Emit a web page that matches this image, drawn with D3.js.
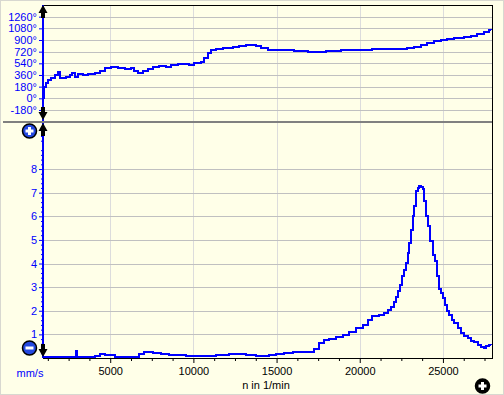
<!DOCTYPE html>
<html>
<head>
<meta charset="utf-8">
<script src="https://cdn.jsdelivr.net/npm/d3@7"></script>
<style>
  body { margin: 0; background: #ffffe8; }
  svg { display: block; font-family: "Liberation Sans", Arial, sans-serif; font-size: 11px; }
  .domain { display: none; }
</style>
</head>
<body>
<div id="chart"></div>
<script>
const width = 504, height = 395;
const left = 43, right = 492;
const phaseTop = 5, phaseBottom = 121, ampTop = 123, ampBottom = 358; // panel edges

// phase curve (upper panel), degrees against rpm
const phaseRpm = [960, 1000, 1060, 1160, 1260, 1460, 1660, 1860, 1960, 2160, 2360, 2560, 2720, 2860, 3060, 3360, 3660, 4060, 4360, 4660, 5060, 5460, 5860, 6260, 6460, 6660, 6960, 7260, 7560, 7960, 8360, 8660, 9060, 9460, 9760, 10060, 10460, 10660, 10860, 11060, 11360, 11760, 12360, 12760, 13160, 13760, 14060, 14460, 16060, 16860, 17960, 18860, 20760, 22860, 23260, 23660, 24060, 24460, 24860, 25260, 25660, 26260, 26660, 27060, 27460, 27760, 27900];
const phaseDeg = [0, 179, 179, 231, 282, 308, 360, 411, 318, 308, 334, 360, 385, 324, 370, 360, 370, 385, 421, 463, 483, 473, 457, 463, 427, 396, 421, 452, 483, 493, 483, 519, 530, 535, 519, 540, 555, 627, 694, 740, 756, 781, 791, 812, 817, 812, 781, 745, 734, 714, 734, 750, 765, 776, 796, 822, 848, 879, 904, 919, 930, 940, 956, 987, 1027, 1058, 1053];

// vibration velocity (lower panel), mm/s against rpm
const ampRpm = [960, 2960, 3020, 3200, 4060, 4360, 4660, 5260, 6760, 7060, 7560, 8060, 8560, 9160, 9560, 10960, 11360, 12160, 13160, 13760, 14560, 14960, 15460, 15960, 16260, 16960, 17260, 17560, 17860, 18160, 18580, 18980, 19380, 19780, 20180, 20480, 20740, 21180, 21480, 21680, 21880, 22080, 22180, 22320, 22420, 22540, 22680, 22780, 22880, 22980, 23080, 23180, 23280, 23380, 23480, 23580, 23680, 23780, 23880, 23980, 24120, 24220, 24380, 24520, 24620, 24740, 24880, 25020, 25140, 25240, 25380, 25520, 25680, 25880, 26080, 26280, 26480, 26680, 26880, 27080, 27280, 27440, 27580, 27740, 27880];
const ampVal = [0.04, 0.3, 0.06, 0.06, 0.1, 0.16, 0.12, 0.06, 0.16, 0.25, 0.2, 0.18, 0.14, 0.12, 0.07, 0.1, 0.13, 0.16, 0.13, 0.1, 0.14, 0.18, 0.23, 0.27, 0.25, 0.27, 0.4, 0.62, 0.75, 0.82, 0.88, 0.98, 1.12, 1.27, 1.41, 1.59, 1.76, 1.8, 1.9, 2.04, 2.18, 2.39, 2.6, 2.82, 3.1, 3.46, 3.74, 4.02, 4.44, 4.87, 5.43, 6.0, 6.42, 7.06, 7.2, 7.27, 7.24, 7.17, 6.64, 6.0, 5.57, 4.94, 4.37, 4.09, 3.46, 2.92, 2.75, 2.53, 2.25, 1.97, 1.8, 1.62, 1.47, 1.27, 1.05, 0.95, 0.84, 0.74, 0.66, 0.56, 0.46, 0.42, 0.49, 0.54, 0.53];

const xTicks = [5000, 10000, 15000, 20000, 25000];
const xMinor = d3.range(1250, 28000, 1250).filter(d => d % 5000 !== 0);
const phaseTicks = [-180, 0, 180, 360, 540, 720, 900, 1080, 1260];
const ampTicks = [1, 2, 3, 4, 5, 6, 7, 8];
const ampMinor = d3.range(1, 50).map(i => i / 5).filter(d => Math.abs(d - Math.round(d)) > 1e-6);

const svg = d3.select("#chart")
  .append("svg")
  .attr("width", width)
  .attr("height", height);

svg.append("rect") // window background with a light frame
  .attr("x", 0.5).attr("y", 0.5)
  .attr("width", width - 1).attr("height", height - 1)
  .attr("fill", "#ffffe8")
  .attr("stroke", "#d8d8d0");

const x = d3.scaleLinear().domain([960, 27950]).range([left, right]);
const yPhase = d3.scaleLinear().domain([-350, 1440]).range([phaseBottom, phaseTop]);
const yAmp = d3.scaleLinear().domain([0, 9.95]).range([ampBottom, ampTop]);

// vertical grid in both panels
[[phaseTop, phaseBottom], [ampTop, ampBottom]].forEach(([t, b]) => {
  svg.append("g")
    .attr("transform", `translate(0,${b})`)
    .call(d3.axisBottom(x).tickValues(xTicks).tickSize(-(b - t)).tickFormat(""))
    .call(g => g.selectAll("line").attr("stroke", "#dcdcdc").attr("shape-rendering", "crispEdges"));
});

// horizontal grids
svg.append("g")
  .attr("transform", `translate(${left},0)`)
  .call(d3.axisLeft(yPhase).tickValues(phaseTicks).tickSize(-(right - left)).tickFormat(""))
  .call(g => g.selectAll("line").attr("stroke", "#c0c0c0").attr("shape-rendering", "crispEdges"));

svg.append("g")
  .attr("transform", `translate(${left},0)`)
  .call(d3.axisLeft(yAmp).tickValues(ampTicks).tickSize(-(right - left)).tickFormat(""))
  .call(g => g.selectAll("line").attr("stroke", "#c0c0c0").attr("shape-rendering", "crispEdges"));

// frame lines
svg.append("line").attr("x1", left).attr("x2", right).attr("y1", phaseTop + 0.5).attr("y2", phaseTop + 0.5)
  .attr("stroke", "#000");
svg.append("line").attr("x1", right + 0.5).attr("x2", right + 0.5).attr("y1", phaseTop).attr("y2", ampBottom)
  .attr("stroke", "#000");
svg.append("line").attr("x1", 3).attr("x2", right).attr("y1", 122).attr("y2", 122)
  .attr("stroke", "#808080").attr("stroke-width", 2);

// curves
const phaseData = phaseRpm.map((r, i) => ({ rpm: r, v: phaseDeg[i] }));
const ampData = ampRpm.map((r, i) => ({ rpm: r, v: ampVal[i] }));

svg.append("path")
  .datum(phaseData)
  .attr("d", d3.line().x(d => x(d.rpm)).y(d => yPhase(d.v)).curve(d3.curveStepAfter))
  .attr("fill", "none")
  .attr("stroke", "#0000ff")
  .attr("stroke-width", 2)
  .attr("shape-rendering", "crispEdges");

svg.append("path")
  .datum(ampData)
  .attr("d", d3.line().x(d => x(d.rpm)).y(d => yAmp(d.v)).curve(d3.curveStepAfter))
  .attr("fill", "none")
  .attr("stroke", "#0000ff")
  .attr("stroke-width", 2)
  .attr("shape-rendering", "crispEdges");

// y axes (blue)
svg.append("g")
  .attr("transform", `translate(${left},0)`)
  .call(d3.axisLeft(yPhase).tickValues(phaseTicks).tickSize(4).tickPadding(2).tickFormat(d => d + "°"))
  .call(g => g.selectAll("line").attr("stroke", "#0000ff"))
  .call(g => g.selectAll("text").attr("fill", "#0000ff").style("font-size", "11px").style("font-family", "'Liberation Sans', Arial, sans-serif"));

svg.append("g")
  .attr("transform", `translate(${left},0)`)
  .call(d3.axisLeft(yAmp).tickValues(ampTicks).tickSize(4).tickPadding(2))
  .call(g => g.selectAll("line").attr("stroke", "#0000ff"))
  .call(g => g.selectAll("text").attr("fill", "#0000ff").style("font-size", "11px").style("font-family", "'Liberation Sans', Arial, sans-serif"));

svg.append("g")
  .attr("transform", `translate(${left},0)`)
  .call(d3.axisLeft(yAmp).tickValues(ampMinor).tickSize(2).tickFormat(""))
  .call(g => g.selectAll("line").attr("stroke", "#0000ff"));

svg.append("line").attr("x1", left).attr("x2", left).attr("y1", phaseTop).attr("y2", phaseBottom)
  .attr("stroke", "#0000ff").attr("stroke-width", 2);
svg.append("line").attr("x1", left).attr("x2", left).attr("y1", ampTop).attr("y2", ampBottom)
  .attr("stroke", "#0000ff").attr("stroke-width", 2);

// x axis (black)
svg.append("g")
  .attr("transform", `translate(0,${ampBottom})`)
  .call(d3.axisBottom(x).tickValues(xTicks).tickSize(5).tickPadding(4).tickFormat(d => d))
  .call(g => g.selectAll("line").attr("stroke", "#000"))
  .call(g => g.selectAll("text").attr("fill", "#000").style("font-size", "11px").style("font-family", "'Liberation Sans', Arial, sans-serif"));

svg.append("g")
  .attr("transform", `translate(0,${ampBottom})`)
  .call(d3.axisBottom(x).tickValues(xMinor).tickSize(3).tickFormat(""))
  .call(g => g.selectAll("line").attr("stroke", "#000"));

svg.append("line").attr("x1", left).attr("x2", right + 1).attr("y1", ampBottom + 0.5).attr("y2", ampBottom + 0.5)
  .attr("stroke", "#000");

// labels
svg.append("text")
  .attr("x", 266).attr("y", 389)
  .attr("text-anchor", "middle")
  .attr("fill", "#000")
  .text("n in 1/min");

svg.append("text")
  .attr("x", 30).attr("y", 377)
  .attr("text-anchor", "middle")
  .attr("fill", "#0000ff")
  .text("mm/s");

// axis arrows
function arrow(yTip, dir) {
  const p = d3.path();
  p.moveTo(left, yTip);
  p.lineTo(left + 4.5, yTip + dir * 8);
  p.lineTo(left + 2, yTip + dir * 8);
  p.lineTo(left + 2, yTip + dir * 13);
  p.lineTo(left - 2, yTip + dir * 13);
  p.lineTo(left - 2, yTip + dir * 8);
  p.lineTo(left - 4.5, yTip + dir * 8);
  p.closePath();
  svg.append("path").attr("d", p.toString()).attr("fill", "#000");
}
arrow(5, 1);
arrow(120, -1);
arrow(123, 1);
arrow(357, -1);

// zoom buttons
function button(cx, cy, fill, plus) {
  svg.append("circle").attr("cx", cx).attr("cy", cy).attr("r", 7)
    .attr("fill", fill).attr("stroke", "#000").attr("stroke-width", 1.5);
  svg.append("rect").attr("x", cx - 4).attr("y", cy - 1.5).attr("width", 8).attr("height", 3).attr("fill", "#fff");
  if (plus) svg.append("rect").attr("x", cx - 1.5).attr("y", cy - 4).attr("width", 3).attr("height", 8).attr("fill", "#fff");
}
button(29.5, 131, "#2448e0", true);
button(29.5, 348, "#2448e0", false);
button(482.5, 386, "#000", true);
</script>
</body>
</html>
